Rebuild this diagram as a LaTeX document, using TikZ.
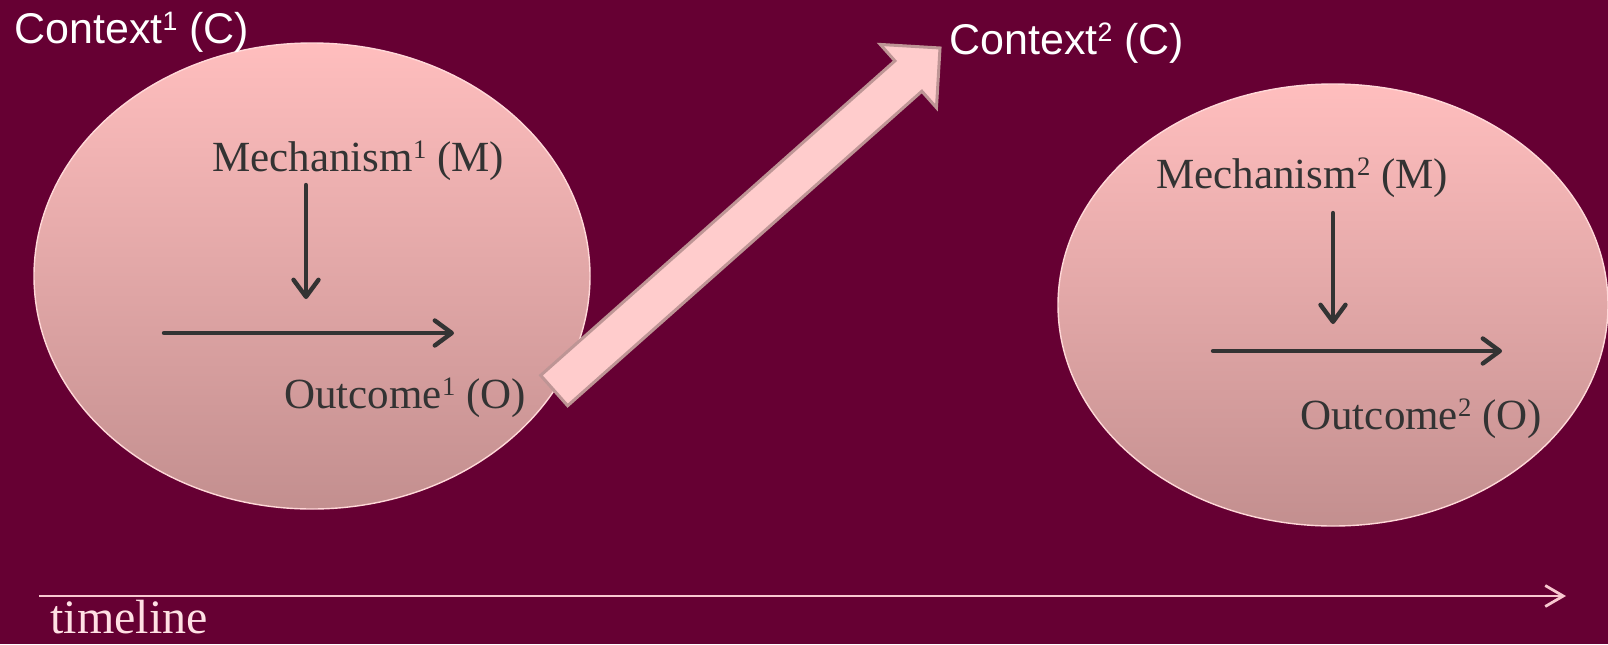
\documentclass[tikz,border=0pt]{standalone}
\usepackage{fontspec}
\setmainfont{Liberation Serif}
\newfontfamily\arialfont{Liberation Sans}
\usetikzlibrary{arrows.meta,shapes.geometric,shapes.arrows}
\definecolor{bgmaroon}{HTML}{660033}
\definecolor{blobtop}{HTML}{FFBEBE}
\definecolor{blobbot}{HTML}{C38F8F}
\definecolor{blobedge}{HTML}{FFD8D8}
\definecolor{jumpfill}{HTML}{FFCCCC}
\definecolor{jumpedge}{HTML}{BE9595}
\definecolor{ink}{HTML}{333333}
\definecolor{timecol}{HTML}{F8C8D0}
\definecolor{timetext}{HTML}{FFE0E4}
\newcommand{\supnum}[1]{\raisebox{0.3em}{\scalebox{0.62}{#1}}}

\begin{document}
\begin{tikzpicture}[x=0.5pt, y=-0.5pt,
    blob/.style={ellipse, draw=blobedge, line width=0.7pt, inner sep=0pt,
                 top color=blobtop, bottom color=blobbot},
    ctx/.style={font=\arialfont\fontsize{21.5}{25}\selectfont, text=white,
                anchor=base west, inner sep=0pt},
    cmo/.style={font=\fontsize{21.5}{26}\selectfont, text=ink,
                anchor=base west, inner sep=0pt},
    flow/.style={draw=ink, line width=2.2pt, line cap=round,
                 -{Straight Barb[length=8.5pt, width=12.5pt, line cap=round, line join=round]}},
    jump/.style={single arrow, draw=jumpedge, fill=jumpfill, line width=1.5pt,
                 inner xsep=0pt, inner ysep=9.4pt, single arrow head extend=11pt,
                 single arrow head indent=0pt, minimum height=258pt},
  ]
  \clip (0,0) rectangle (1608,644);
  \fill[bgmaroon] (0,0) rectangle (1608,644);

  % the two context blobs
  \node[blob, minimum width=278pt, minimum height=233pt] (blob1) at (312,276) {};
  \node[blob, minimum width=275pt, minimum height=221pt] (blob2) at (1333,305) {};

  % labels
  \node[ctx] (ctx1) at (14,43) {Context\supnum{1} (C)};
  \node[ctx] (ctx2) at (949,54) {Context\supnum{2} (C)};
  \node[cmo] (mech1) at (212,171) {Mechanism\supnum{1} (M)};
  \node[cmo] (out1) at (284,408) {Outcome\supnum{1} (O)};
  \node[cmo] (mech2) at (1156,188) {Mechanism\supnum{2} (M)};
  \node[cmo] (out2) at (1300,429) {Outcome\supnum{2} (O)};
  \node[anchor=base west, inner sep=0pt, text=timetext,
        font=\fontsize{24}{28}\selectfont] (tl) at (50,633) {timeline};

  % arrow ends
  \coordinate (m1a) at (306,185);
  \coordinate (m1b) at (306,299);
  \coordinate (o1a) at (164,333);
  \coordinate (o1b) at (454,333);
  \coordinate (m2a) at (1333,213);
  \coordinate (m2b) at (1333,324);
  \coordinate (o2a) at (1213,351);
  \coordinate (o2b) at (1502,351);
  \coordinate (ta) at (39,596);
  \coordinate (tb) at (1566,596);

  \draw[flow] (m1a) -- (m1b);
  \draw[flow] (o1a) -- (o1b);
  \draw[flow] (m2a) -- (m2b);
  \draw[flow] (o2a) -- (o2b);

  % shift to the next context
  \node[jump, rotate=41.6] (shift) at (739.5,226) {};

  % timeline
  \draw[timecol, line width=1.4pt,
        -{Straight Barb[length=9pt, width=10.5pt]}] (ta) -- (tb);
\end{tikzpicture}
\end{document}
